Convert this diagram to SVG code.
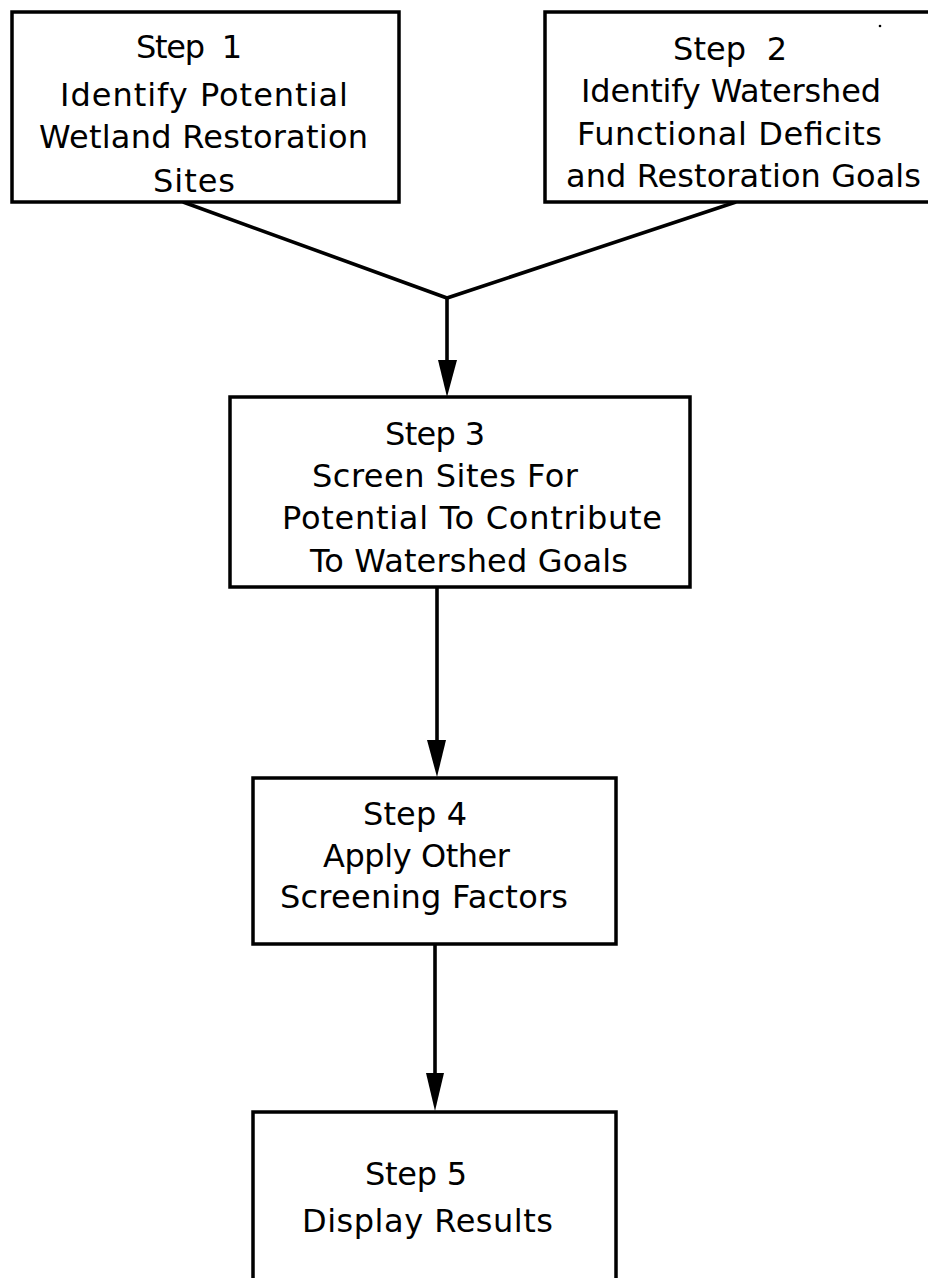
<svg xmlns="http://www.w3.org/2000/svg" width="928" height="1278" viewBox="0 0 928 1278">
<style>
.box{fill:#fff;stroke:#000;stroke-width:3.5}
.lbl{font-family:"DejaVu Sans","Liberation Sans",sans-serif;font-size:32px;fill:#000}
.con{stroke:#000;stroke-width:3.6;fill:none}
.head{fill:#000}
</style>
<rect x="0" y="0" width="928" height="1278" fill="#fff"/>
<g id="connectors">
<polyline class="con" points="183,202 447,298 736,202"/>
<line class="con" x1="447" y1="298" x2="447" y2="362"/>
<polygon class="head" points="438,360 457,360 447,397"/>
<line class="con" x1="437" y1="587" x2="437" y2="742"/>
<polygon class="head" points="427,740 446,740 437,777"/>
<line class="con" x1="435" y1="944" x2="435" y2="1075"/>
<polygon class="head" points="426,1073 444,1073 435,1111"/>
</g>
<g id="step1">
<rect class="box" x="12" y="12" width="387" height="190"/>
<text class="lbl" x="136" y="58" textLength="106" lengthAdjust="spacing" xml:space="preserve">Step  1</text>
<text class="lbl" x="60" y="106" textLength="288" lengthAdjust="spacing">Identify Potential</text>
<text class="lbl" x="39" y="148" textLength="329" lengthAdjust="spacing">Wetland Restoration</text>
<text class="lbl" x="153" y="192" textLength="82" lengthAdjust="spacing">Sites</text>
</g>
<g id="step2">
<rect class="box" x="545" y="12" width="400" height="190"/>
<text class="lbl" x="673" y="60" textLength="114" lengthAdjust="spacing" xml:space="preserve">Step  2</text>
<text class="lbl" x="581" y="102" textLength="300" lengthAdjust="spacing">Identify Watershed</text>
<text class="lbl" x="577" y="145" textLength="305" lengthAdjust="spacing">Functional Deficits</text>
<text class="lbl" x="566" y="187" textLength="355" lengthAdjust="spacing">and Restoration Goals</text>
<circle cx="880" cy="26" r="1.3" fill="#000"/>
</g>
<g id="step3">
<rect class="box" x="230" y="397" width="460" height="190"/>
<text class="lbl" x="385" y="445" textLength="100" lengthAdjust="spacing">Step 3</text>
<text class="lbl" x="312" y="487" textLength="266" lengthAdjust="spacing">Screen Sites For</text>
<text class="lbl" x="282" y="529" textLength="380" lengthAdjust="spacing">Potential To Contribute</text>
<text class="lbl" x="310" y="572" textLength="318" lengthAdjust="spacing">To Watershed Goals</text>
</g>
<g id="step4">
<rect class="box" x="253" y="778" width="363" height="166"/>
<text class="lbl" x="363" y="825" textLength="104" lengthAdjust="spacing">Step 4</text>
<text class="lbl" x="323" y="867" textLength="187" lengthAdjust="spacing">Apply Other</text>
<text class="lbl" x="280" y="908" textLength="288" lengthAdjust="spacing">Screening Factors</text>
</g>
<g id="step5">
<rect class="box" x="253" y="1112" width="363" height="200"/>
<text class="lbl" x="365" y="1185" textLength="102" lengthAdjust="spacing">Step 5</text>
<text class="lbl" x="302" y="1232" textLength="251" lengthAdjust="spacing">Display Results</text>
</g>
</svg>
